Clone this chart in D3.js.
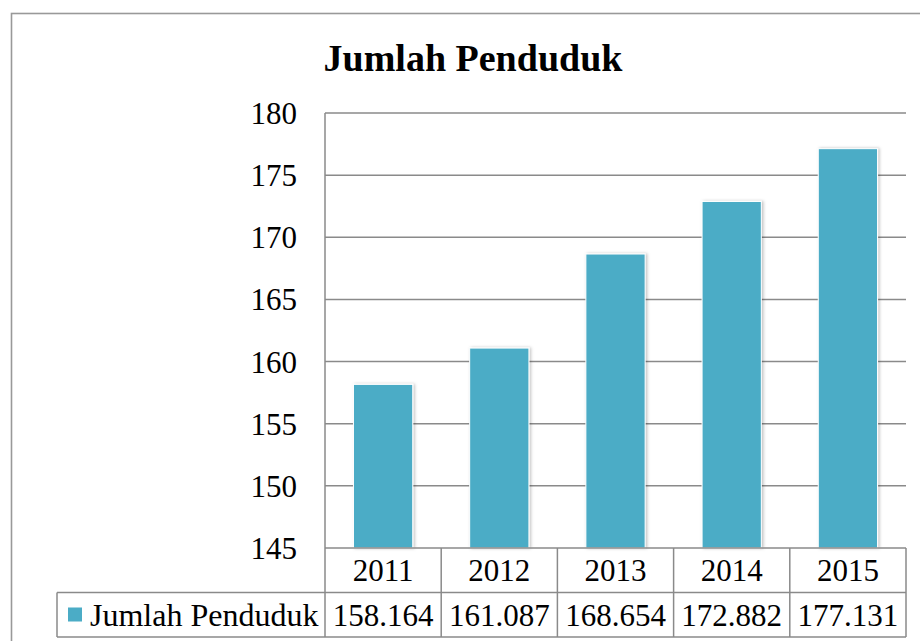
<!DOCTYPE html>
<html><head><meta charset="utf-8">
<script src="https://cdn.jsdelivr.net/npm/d3@7"></script>
<style>body{margin:0;background:#fff}svg{display:block}
svg text{font-family:"Liberation Serif","Times New Roman","DejaVu Serif",serif;}</style>
</head><body>
<script>
const title = "Jumlah Penduduk";
const seriesName = "Jumlah Penduduk";
const years = ["2011","2012","2013","2014","2015"];
const values = [158.164, 161.087, 168.654, 172.882, 177.131];
const valueLabels = ["158.164","161.087","168.654","172.882","177.131"];
const yTicks = [145,150,155,160,165,170,175,180];

const W = 920, H = 641;
const FONT = '"Liberation Serif","Times New Roman","DejaVu Serif",serif';
const FS = "31px";
const svg = d3.select("body").append("svg").attr("width", W).attr("height", H);

const defs = svg.append("defs");
const f = defs.append("filter").attr("id","sh").attr("x","-20%").attr("y","-20%").attr("width","140%").attr("height","140%");
f.append("feDropShadow").attr("dx",1.5).attr("dy",0).attr("stdDeviation",1.5).attr("flood-color","#000").attr("flood-opacity",0.25);

// outer chart border
svg.append("rect").attr("x",11.5).attr("y",13.5).attr("width",940).attr("height",700)
  .attr("fill","none").attr("stroke","#999").attr("stroke-width",1.6);

const pLeft = 325, pRight = 906, pTop = 113, pBottom = 548;
const x = d3.scaleBand().domain(years).range([pLeft, pRight]).paddingInner(0.49).paddingOuter(0.245);
const xCell = d3.scaleBand().domain(years).range([pLeft, pRight]);
const y = d3.scaleLinear().domain([145,180]).range([pBottom, pTop]);

// title
svg.append("text").attr("x",473).attr("y",71).attr("text-anchor","middle")
  .style("font-family",FONT).style("font-weight","bold").style("font-size","38px").attr("fill","#000").text(title);

// gridlines
svg.append("g").selectAll("line").data(yTicks.filter(d=>d>145)).join("line")
  .attr("x1",pLeft).attr("x2",pRight).attr("y1",d=>y(d)).attr("y2",d=>y(d))
  .attr("stroke","#8a8a8a").attr("stroke-width",1.5);

// y axis via d3
const yAxis = svg.append("g").attr("transform",`translate(${pLeft},0)`)
  .call(d3.axisLeft(y).tickValues(yTicks).tickSize(0).tickPadding(28).tickFormat(d3.format("d")));
yAxis.attr("font-family",null).attr("font-size",null);
yAxis.select(".domain").remove();
yAxis.selectAll("text").style("font-family",FONT).style("font-size",FS).attr("fill","#000").attr("dy","0.34em");

// bars
svg.append("g").selectAll("rect").data(values).join("rect")
  .attr("x",(d,i)=>x(years[i])).attr("width",x.bandwidth())
  .attr("y",d=>y(d)).attr("height",d=>pBottom-y(d))
  .attr("fill","#4BACC6").attr("stroke","#fff").attr("stroke-width",1).attr("filter","url(#sh)");

// data table
const rowH = 44.5;
const r1 = pBottom, r2 = pBottom + rowH, r3 = pBottom + 2*rowH;
const tg = svg.append("g").attr("stroke","#8a8a8a").attr("stroke-width",1.5);
tg.append("line").attr("x1",pLeft).attr("x2",pRight).attr("y1",r1).attr("y2",r1);
tg.append("line").attr("x1",57).attr("x2",pRight).attr("y1",r2).attr("y2",r2);
tg.append("line").attr("x1",57).attr("x2",pRight).attr("y1",r3).attr("y2",r3);
tg.append("line").attr("x1",57).attr("x2",57).attr("y1",r2).attr("y2",r3);
tg.append("line").attr("x1",pLeft).attr("x2",pLeft).attr("y1",pTop).attr("y2",r3);
tg.selectAll("line.v").data(years).join("line").attr("class","v")
  .attr("x1",d=>xCell(d)+xCell.bandwidth()).attr("x2",d=>xCell(d)+xCell.bandwidth())
  .attr("y1",r1).attr("y2",r3);

svg.append("g").selectAll("text").data(years).join("text")
  .attr("x",d=>xCell(d)+xCell.bandwidth()/2).attr("y",r1+rowH/2).attr("dy","0.35em")
  .attr("text-anchor","middle").style("font-family",FONT).style("font-size",FS).text(d=>d);
svg.append("g").selectAll("text").data(valueLabels).join("text")
  .attr("x",(d,i)=>xCell(years[i])+xCell.bandwidth()/2).attr("y",r2+rowH/2).attr("dy","0.35em")
  .attr("text-anchor","middle").style("font-family",FONT).style("font-size",FS).text(d=>d);

// legend key in table
svg.append("rect").attr("x",68).attr("y",607.5).attr("width",14).attr("height",14).attr("fill","#4BACC6");
svg.append("text").attr("x",90).attr("y",r2+rowH/2).attr("dy","0.35em")
  .style("font-family",FONT).style("font-size","32px").text(seriesName);
</script>
</body></html>
